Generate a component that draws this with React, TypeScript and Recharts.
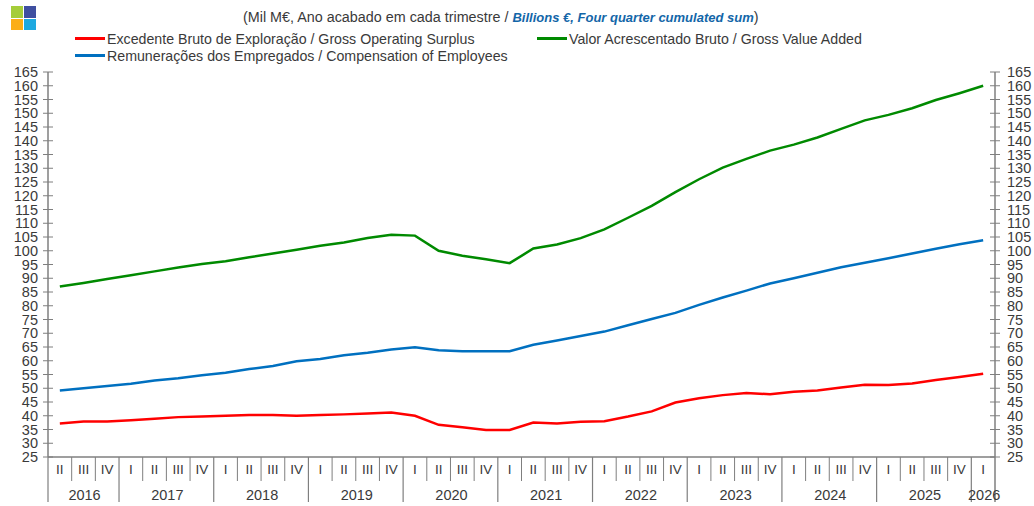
import React from "react";
import { LineChart, Line, XAxis, YAxis, Legend } from "recharts";

const quarters = ["II","III","IV","I","II","III","IV","I","II","III","IV","I","II","III","IV","I","II","III","IV","I","II","III","IV","I","II","III","IV","I","II","III","IV","I","II","III","IV","I","II","III","IV","I"];
const years = [2016,2016,2016,2017,2017,2017,2017,2018,2018,2018,2018,2019,2019,2019,2019,2020,2020,2020,2020,2021,2021,2021,2021,2022,2022,2022,2022,2023,2023,2023,2023,2024,2024,2024,2024,2025,2025,2025,2025,2026];
const surplus = [37.2,37.9,37.9,38.4,38.9,39.5,39.7,40,40.3,40.3,40,40.3,40.5,40.8,41.2,40,36.7,35.8,34.8,34.8,37.5,37.2,37.8,38,39.7,41.6,44.8,46.4,47.5,48.3,47.8,48.7,49.2,50.3,51.3,51.2,51.7,53,54.1,55.3];
const valueAdded = [87,88.3,89.7,91.1,92.5,93.9,95.2,96.2,97.6,99,100.4,101.8,103,104.6,105.8,105.5,100,98.2,96.9,95.5,100.8,102.3,104.6,107.8,112,116.3,121.3,126,130.2,133.4,136.4,138.6,141.2,144.3,147.4,149.4,151.8,154.8,157.3,160];
const compensation = [49.2,50,50.8,51.6,52.8,53.6,54.7,55.6,57,58.1,59.8,60.6,62,62.9,64.1,64.9,63.8,63.5,63.5,63.5,65.8,67.4,69,70.6,72.9,75.2,77.4,80.3,83,85.5,88.1,90,92,94,95.6,97.3,99,100.7,102.4,103.8];
const yTicks = [25,30,35,40,45,50,55,60,65,70,75,80,85,90,95,100,105,110,115,120,125,130,135,140,145,150,155,160,165];

const data = quarters.map((q, i) => ({ key: i, q, year: years[i], surplus: surplus[i], valueAdded: valueAdded[i], compensation: compensation[i] }));

const WIDTH = 1034, HEIGHT = 506, LEFT = 48, RIGHT = 39;
const BAND = (WIDTH - LEFT - RIGHT) / quarters.length;
const AXIS = "#7f7f7f", TEXT = "#3a3a3a", FONT = "'Liberation Sans', Arial, sans-serif";

const XTick = (props: any) => {
  const { x, index } = props;
  const i = index as number;
  const top = 457;
  const yr = years[i];
  const isFirst = i === 0 || years[i - 1] !== yr;
  const pos = years.slice(0, i).filter((v) => v === yr).length;
  const count = years.filter((v) => v === yr).length;
  const left = x - BAND / 2;
  const center = left + BAND * (count / 2 - pos);
  return (
    <g>
      <line x1={left} x2={left} y1={top} y2={isFirst ? 502 : 481} stroke={AXIS} strokeWidth={isFirst ? 1.2 : 1} />
      {i === quarters.length - 1 && <line x1={left + BAND} x2={left + BAND} y1={top} y2={502} stroke={AXIS} strokeWidth={1.5} />}
      <text x={x} y={474} textAnchor="middle" fontSize={13.5} fontFamily={FONT} fill={TEXT}>{quarters[i]}</text>
      {pos === 0 && <text x={center + 1} y={500} textAnchor="middle" fontSize={14.5} fontFamily={FONT} fill={TEXT}>{yr}</text>}
    </g>
  );
};

const YTick = (props: any) => {
  const { x, y, payload, side } = props;
  const left = side === "left";
  const axisX = left ? x + 10 : x - 10;
  return (
    <g>
      <line x1={axisX - 5} x2={axisX + 5} y1={y} y2={y} stroke={AXIS} strokeWidth={1} />
      <text x={left ? x : x + 2} y={y + 5} textAnchor={left ? "end" : "start"} fontSize={14.5} fontFamily={FONT} fill={TEXT}>{payload.value}</text>
    </g>
  );
};

const LegendBox = ({ payload }: any) => (
  <div style={{ display: "grid", gridTemplateColumns: "462px 400px", gridAutoRows: "17px", fontFamily: FONT, fontSize: 14.2, color: TEXT }}>
    {(payload || []).map((p: any) => (
      <div key={p.value} style={{ display: "flex", alignItems: "center", whiteSpace: "nowrap" }}>
        <span style={{ width: 30, flexShrink: 0, height: 2.5, background: p.color, marginRight: 2, display: "inline-block" }} />
        <span>{p.value}</span>
      </div>
    ))}
  </div>
);

export default function App() {
  return (
    <div style={{ position: "absolute", left: 0, top: 0, width: WIDTH, height: HEIGHT, overflow: "hidden", background: "#fff" }}>
      <svg width={40} height={34} style={{ position: "absolute", left: 0, top: 0 }}>
        <rect x={11} y={6} width={12} height={12} fill="#a5cd39" />
        <rect x={24} y={6} width={12} height={12} fill="#3f4fa0" />
        <rect x={11} y={19} width={12} height={11} fill="#fbae17" />
        <rect x={24} y={19} width={12} height={11} fill="#1ea9e0" />
      </svg>
      <div style={{ position: "absolute", left: 243, top: 9, whiteSpace: "nowrap", fontFamily: FONT, fontSize: 14.35, color: TEXT }}>
        (Mil M€, Ano acabado em cada trimestre /{" "}
        <span style={{ fontWeight: "bold", fontStyle: "italic", fontSize: 13, color: "#1366a8" }}>Billions €, Four quarter cumulated sum</span>)
      </div>
      <LineChart width={WIDTH} height={HEIGHT} data={data} margin={{ top: 38, right: 0, bottom: 0, left: 0 }}>
        <XAxis dataKey="key" scale="band" interval={0} height={49} tick={<XTick />} tickLine={false} stroke={AXIS} axisLine={{ stroke: AXIS, strokeWidth: 1.5 }} />
        <YAxis yAxisId="l" orientation="left" width={LEFT} domain={[25, 165]} ticks={yTicks} interval={0} tickSize={10} tickMargin={0} tickLine={false} axisLine={{ stroke: AXIS, strokeWidth: 1.5 }} tick={<YTick side="left" />} />
        <YAxis yAxisId="r" orientation="right" width={RIGHT} domain={[25, 165]} ticks={yTicks} interval={0} tickSize={10} tickMargin={0} tickLine={false} axisLine={{ stroke: AXIS, strokeWidth: 1.5 }} tick={<YTick side="right" />} />
        <Legend verticalAlign="top" align="left" height={34} itemSorter={null} content={<LegendBox />} wrapperStyle={{ position: "absolute", top: 30, left: 75, width: 880 }} />
        <Line yAxisId="l" dataKey="surplus" name="Excedente Bruto de Exploração / Gross Operating Surplus" stroke="#ff0000" strokeWidth={2.5} dot={false} isAnimationActive={false} />
        <Line yAxisId="l" dataKey="valueAdded" name="Valor Acrescentado Bruto / Gross Value Added" stroke="#008a00" strokeWidth={2.5} dot={false} isAnimationActive={false} />
        <Line yAxisId="r" dataKey="compensation" name="Remunerações dos Empregados / Compensation of Employees" stroke="#0070c0" strokeWidth={2.5} dot={false} isAnimationActive={false} />
      </LineChart>
    </div>
  );
}
